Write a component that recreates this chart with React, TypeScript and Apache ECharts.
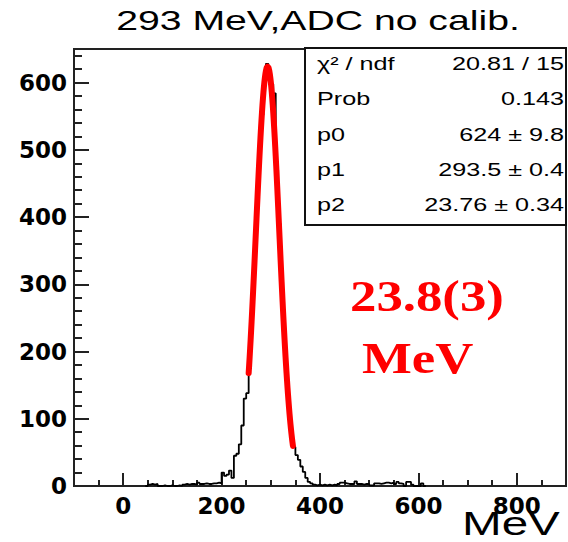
import React, { useEffect, useRef } from "react";
import * as echarts from "echarts";

// Histogram title and axis annotation
const titleText = "293 MeV,ADC no calib.";
const xAxisTitle = "MeV";

// Axis tick positions
const xMajorTicks = [0, 200, 400, 600, 800];
const yMajorTicks = [0, 100, 200, 300, 400, 500, 600];

// Energy histogram: 5 MeV bins starting at 45 MeV
const histStart = 45;
const binWidth = 5;
const counts = [
  0, 2, 3, 2, 3, 0, 0, 1, 0, 0, // 45 - 90
  1, 0, 0, 1, 0, 2, 3, 2, 3, 3, // 95 - 140
  2, 5, 3, 3, 4, 3, 3, 4, 4, 5, // 145 - 190
  4, 20, 15, 17, 23, 12, 45, 48, 62, 90, // 195 - 240
  130, 138, 175, 262, 340, 425, 500, 552, 600, 628, // 245 - 290
  612, 598, 584, 470, 390, 300, 228, 160, 112, 72, // 295 - 340
  58, 46, 39, 29, 21, 12, 6, 4, 2, 1, // 345 - 390
  2, 1, 2, 1, 2, 1, 2, 1, 3, 5, // 395 - 440
  5, 4, 3, 3, 3, 7, 3, 3, 2, 3, // 445 - 490
  3, 1, 1, 4, 4, 3, 4, 5, 5, 4, // 495 - 540
  5, 3, 6, 4, 3, 0, 6, 6, 2, 0, // 545 - 590
  0, 0, 4, 0, // 595 - 610
];

// Gaussian fit: p0 * exp(-0.5 * ((x - p1) / p2)^2) over the fit window
const fitParams = [624, 293.5, 23.76];
const fitRange = [255, 345];

// Fit statistics box
const statLabels = ["\u03c7\u00b2 / ndf", "Prob", "p0", "p1", "p2"];
const statValues = ["20.81 / 15", "0.143", "624 \u00b1 9.8", "293.5 \u00b1 0.4", "23.76 \u00b1 0.34"];

// Resolution annotation
const resolutionLines = ["23.8(3)", "MeV"];

function buildHistogram(): number[][] {
  const pts: number[][] = [[histStart, 0]];
  counts.forEach((c, i) => {
    const lo = histStart + i * binWidth;
    pts.push([lo, c], [lo + binWidth, c]);
  });
  pts.push([histStart + counts.length * binWidth, 0]);
  return pts;
}

function buildFit(): number[][] {
  const [p0, p1, p2] = fitParams;
  const pts: number[][] = [];
  for (let x = fitRange[0]; x <= fitRange[1] + 1e-9; x += 1) {
    const z = (x - p1) / p2;
    pts.push([x, p0 * Math.exp(-0.5 * z * z)]);
  }
  return pts;
}

const SANS = "'Liberation Sans', Arial, sans-serif";
const SERIF = "'Liberation Serif', 'Times New Roman', serif";
const LABEL_FONT = "'DejaVu Sans', sans-serif";
const STRETCH = 1.4;

export default function App() {
  const ref = useRef<HTMLDivElement>(null);

  useEffect(() => {
    if (!ref.current) return;
    const chart = echarts.init(ref.current, undefined, { renderer: "svg" });

    const axisColor = "#222";
    const rowY0 = 64;
    const rowStep = 35.25;

    const graphic: any[] = [
      {
        type: "text",
        x: 318,
        y: 20,
        scaleX: STRETCH,
        style: {
          text: titleText,
          font: `28px ${SANS}`,
          fill: "#000",
          align: "center",
          verticalAlign: "middle",
        },
      },
      {
        type: "rect",
        shape: { x: 305, y: 48, width: 261, height: 177 },
        style: { fill: "#fff", stroke: "#111", lineWidth: 2 },
        z: 10,
      },
      ...statLabels.map((t, i) => ({
        type: "text",
        x: 317,
        y: rowY0 + i * rowStep,
        scaleX: STRETCH,
        z: 11,
        style: {
          text: t,
          font: `18px ${SANS}`,
          fill: "#000",
          align: "left",
          verticalAlign: "middle",
        },
      })),
      ...statValues.map((t, i) => ({
        type: "text",
        x: 564,
        y: rowY0 + i * rowStep,
        scaleX: STRETCH,
        z: 11,
        style: {
          text: t,
          font: `18px ${SANS}`,
          fill: "#000",
          align: "right",
          verticalAlign: "middle",
        },
      })),
      {
        type: "text",
        x: 350,
        y: 297,
        scaleX: 1.2,
        z: 11,
        style: {
          text: resolutionLines[0],
          font: `bold 44px ${SERIF}`,
          fill: "#ff0000",
          align: "left",
          verticalAlign: "middle",
        },
      },
      {
        type: "text",
        x: 362,
        y: 359,
        scaleX: 1.2,
        z: 11,
        style: {
          text: resolutionLines[1],
          font: `bold 44px ${SERIF}`,
          fill: "#ff0000",
          align: "left",
          verticalAlign: "middle",
        },
      },
      {
        type: "text",
        x: 462,
        y: 523,
        scaleX: STRETCH,
        z: 11,
        style: {
          text: xAxisTitle,
          font: `34px ${SANS}`,
          fill: "#000",
          align: "left",
          verticalAlign: "middle",
        },
      },
    ];

    const option: any = {
      animation: false,
      backgroundColor: "#fff",
      grid: {
        left: 74,
        right: 2,
        top: 49,
        bottom: 56,
        show: true,
        borderColor: axisColor,
        borderWidth: 2,
        backgroundColor: "transparent",
      },
      xAxis: [
        {
          type: "value",
          min: -100,
          max: 900,
          position: "bottom",
          axisLine: { show: true, onZero: false, lineStyle: { color: axisColor, width: 2 } },
          axisTick: {
            show: true,
            inside: true,
            length: 13,
            customValues: xMajorTicks,
            lineStyle: { color: axisColor, width: 2 },
          },
          axisLabel: {
            show: true,
            customValues: xMajorTicks,
            fontFamily: LABEL_FONT,
            fontWeight: "bold",
            fontSize: 23,
            color: "#000",
            margin: 8,
          },
          splitLine: { show: false },
        },
        {
          type: "value",
          min: -100,
          max: 900,
          interval: 50,
          position: "bottom",
          axisLine: { show: false, onZero: false },
          axisTick: { show: true, inside: true, length: 6, lineStyle: { color: axisColor, width: 2 } },
          axisLabel: { show: false },
          splitLine: { show: false },
        },
      ],
      yAxis: [
        {
          type: "value",
          min: 0,
          max: 650,
          position: "left",
          axisLine: { show: true, onZero: false, lineStyle: { color: axisColor, width: 2 } },
          axisTick: {
            show: true,
            inside: true,
            length: 15,
            customValues: yMajorTicks,
            lineStyle: { color: axisColor, width: 2 },
          },
          axisLabel: {
            show: true,
            customValues: yMajorTicks,
            fontFamily: LABEL_FONT,
            fontWeight: "bold",
            fontSize: 23,
            color: "#000",
            margin: 7,
          },
          splitLine: { show: false },
        },
        {
          type: "value",
          min: 0,
          max: 650,
          interval: 20,
          position: "left",
          axisLine: { show: false, onZero: false },
          axisTick: { show: true, inside: true, length: 8, lineStyle: { color: axisColor, width: 2 } },
          axisLabel: { show: false },
          splitLine: { show: false },
        },
      ],
      series: [
        {
          name: "histogram",
          type: "line",
          xAxisIndex: 0,
          yAxisIndex: 0,
          data: buildHistogram(),
          showSymbol: false,
          symbol: "none",
          lineStyle: { color: "#000", width: 1.8 },
          z: 3,
        },
        {
          name: "gaus fit",
          type: "line",
          xAxisIndex: 0,
          yAxisIndex: 0,
          data: buildFit(),
          showSymbol: false,
          symbol: "none",
          smooth: false,
          lineStyle: { color: "#ff0000", width: 6, cap: "round", join: "round" },
          z: 4,
        },
      ],
      graphic,
    };

    chart.setOption(option);
    return () => chart.dispose();
  }, []);

  return (
    <div
      ref={ref}
      style={{ position: "fixed", left: 0, top: 0, width: 568, height: 542, background: "#fff" }}
    />
  );
}
